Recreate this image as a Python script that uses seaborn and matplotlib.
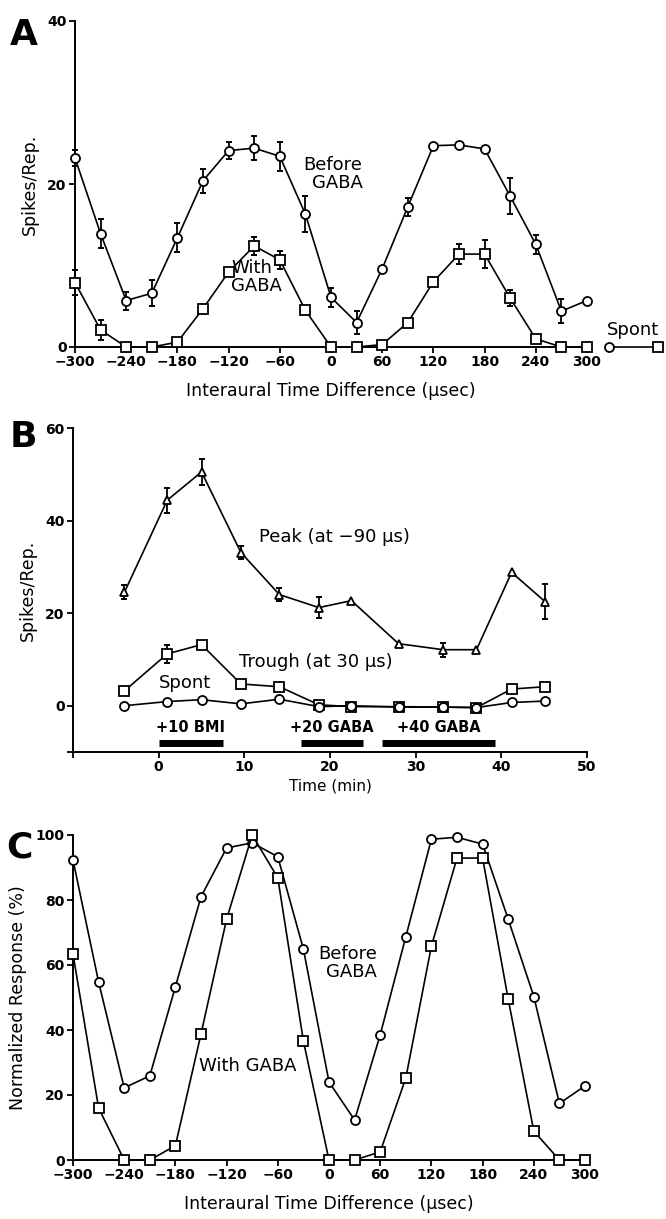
import numpy as np
import pandas as pd
import matplotlib
matplotlib.use("Agg")
import matplotlib.pyplot as plt
import seaborn as sns

# ---------------- data ----------------
itd = [-300, -270, -240, -210, -180, -150, -120, -90, -60, -30, 0,
       30, 60, 90, 120, 150, 180, 210, 240, 270, 300]

a_before = [23.2, 13.9, 5.7, 6.6, 13.4, 20.4, 24.1, 24.4, 23.4, 16.3, 6.1,
            3.0, 9.6, 17.2, 24.7, 24.8, 24.3, 18.5, 12.6, 4.4, 5.7]
a_before_err = [1.0, 1.8, 1.1, 1.6, 1.8, 1.5, 1.0, 1.5, 1.8, 2.2, 1.2,
                1.4, 0, 1.1, 0, 0, 0, 2.2, 1.2, 1.5, 0]
a_gaba = [7.9, 2.1, 0, 0, 0.6, 4.7, 9.2, 12.4, 10.7, 4.5, 0,
          0, 0.3, 3.0, 8.0, 11.4, 11.4, 6.0, 1.0, 0, 0]
a_gaba_err = [1.5, 1.2, 0, 0, 0, 0, 0, 1.1, 1.1, 0, 0,
              0, 0, 0, 0, 1.2, 1.7, 1.0, 0, 0, 0]
a_spont = [0.0, 0.0]

b_time = [-4, 1, 5, 9.6, 14.1, 18.7, 22.5, 28, 33.2, 37.1, 41.2, 45.1]
b_peak = [24.5, 44.4, 50.5, 33.1, 24.0, 21.2, 22.7, 13.4, 12.1, 12.1, 28.8, 22.5]
b_peak_err = [1.5, 2.7, 2.9, 1.4, 1.4, 2.2, 0, 0, 1.5, 0, 0, 3.8]
b_trough = [3.2, 11.2, 13.2, 4.7, 4.1, 0.2, -0.2, -0.2, -0.3, -0.4, 3.6, 4.1]
b_trough_err = [0, 2.0, 0, 0, 0, 0, 0, 0, 0, 0, 0, 0]
b_spont = [0.0, 0.9, 1.3, 0.4, 1.4, -0.2, 0.0, -0.3, -0.3, -0.4, 0.7, 1.0]

drug_labels = ["+10 BMI", "+20 GABA", "+40 GABA"]
drug_start = [0, 16.6, 26.1]
drug_end = [7.5, 23.8, 39.3]

c_before = [92.3, 54.8, 22.2, 25.9, 53.3, 81.0, 96.0, 97.6, 93.3, 64.9, 24.0,
            12.3, 38.5, 68.7, 98.7, 99.3, 97.2, 74.1, 50.3, 17.4, 22.8]
c_gaba = [63.4, 16.0, 0, 0, 4.4, 38.8, 74.1, 100, 86.8, 36.6, 0,
          0, 2.5, 25.2, 65.8, 92.9, 92.9, 49.5, 8.9, 0, 0]

a_yticks = [0, 20, 40]
b_yticks = [-10, 0, 20, 40, 60]
b_ytick_labels = ["", "0", "20", "40", "60"]
b_xticks = [-10, 0, 10, 20, 30, 40, 50]
b_xtick_labels = ["", "0", "10", "20", "30", "40", "50"]
c_yticks = [0, 20, 40, 60, 80, 100]
itd_ticks = [-300, -240, -180, -120, -60, 0, 60, 120, 180, 240, 300]

# ---------------- style ----------------
sns.set_style("ticks")
plt.rcParams["font.family"] = ["DejaVu Sans"]
for k in ["text.color", "axes.labelcolor", "xtick.color", "ytick.color", "axes.edgecolor"]:
    plt.rcParams[k] = "black"
plt.rcParams["axes.linewidth"] = 1.4
plt.rcParams["xtick.major.width"] = 1.3
plt.rcParams["ytick.major.width"] = 1.3

W, H = 666, 1219
fig = plt.figure(figsize=(W / 100, H / 100), dpi=100)

def axes_px(x0, x1, ytop, ybot):
    return fig.add_axes([x0 / W, 1 - ybot / H, (x1 - x0) / W, (ybot - ytop) / H])

LW = 1.2
MS = 6.5
MEW = 1.3
TICKFS = 10
LABFS = 12.5
ANNFS = 13

def line(ax, x, y, marker, ms=MS):
    df = pd.DataFrame({"x": x, "y": y})
    sns.lineplot(data=df, x="x", y="y", ax=ax, color="black", lw=LW,
                 marker=marker, markersize=ms, markerfacecolor="white",
                 markeredgecolor="black", markeredgewidth=MEW,
                 clip_on=False, zorder=3, sort=False)

def errs(ax, x, y, e):
    x = np.asarray(x, float); y = np.asarray(y, float); e = np.asarray(e, float)
    m = e > 0
    ax.errorbar(x[m], y[m], yerr=e[m], fmt="none", ecolor="black",
                elinewidth=1.3, capsize=2.5, capthick=1.4, zorder=2, clip_on=False)

def style(ax):
    sns.despine(ax=ax)
    ax.tick_params(labelsize=TICKFS, direction="out", length=4, width=1.3, pad=2,
                   colors="black")
    for lab in ax.get_xticklabels() + ax.get_yticklabels():
        lab.set_fontweight("bold")
    ax.set_facecolor("white")

# ---------------- panel A ----------------
axA = axes_px(75, 587, 21, 347)
errs(axA, itd, a_before, a_before_err)
errs(axA, itd, a_gaba, a_gaba_err)
line(axA, itd, a_before, "o")
line(axA, itd, a_gaba, "s")
axA.set_xlim(-300, 300)
axA.set_ylim(0, 40)
axA.set_xticks(itd_ticks)
axA.set_xticklabels([str(t).replace("-", "\u2212") for t in itd_ticks])
axA.set_yticks(a_yticks)
axA.set_xlabel("Interaural Time Difference (\u03bcsec)", fontsize=LABFS, labelpad=9)
axA.set_ylabel("Spikes/Rep.", fontsize=LABFS, labelpad=6)
style(axA)
# spontaneous rate drawn beyond the axis end
sp_x = [326, 383]
axA.plot(sp_x, a_spont, color="black", lw=LW, clip_on=False, zorder=3)
axA.plot(sp_x[0], a_spont[0], marker="o", ms=MS, mfc="white", mec="black",
         mew=MEW, clip_on=False, zorder=4)
axA.plot(sp_x[1], a_spont[1], marker="s", ms=MS, mfc="white", mec="black",
         mew=MEW, clip_on=False, zorder=4)
axA.text(354, 2.1, "Spont", fontsize=ANNFS, ha="center", va="center", clip_on=False)
axA.text(37, 21.2, "Before\nGABA", fontsize=ANNFS, ha="right", va="center",
         multialignment="right", linespacing=1.0)
axA.text(-117, 8.6, "With\nGABA", fontsize=ANNFS, ha="left", va="center",
         multialignment="left", linespacing=1.0)
fig.text(10 / W, 1 - 35 / H, "A", fontsize=26, fontweight="bold", va="center")

# ---------------- panel B ----------------
axB = axes_px(73, 587, 428, 752)
errs(axB, b_time, b_peak, b_peak_err)
errs(axB, b_time, b_trough, b_trough_err)
line(axB, b_time, b_peak, "^", ms=6)
line(axB, b_time, b_trough, "s")
line(axB, b_time, b_spont, "o")
for s, e in zip(drug_start, drug_end):
    axB.hlines(-8, s, e, color="black", lw=5)
for s, e, t in zip(drug_start, drug_end, drug_labels):
    axB.text((s + e) / 2, -4.6, t, fontsize=10.5, fontweight="bold",
             ha="center", va="center")
axB.set_xlim(-10, 50)
axB.set_ylim(-10, 60)
axB.set_xticks(b_xticks)
axB.set_xticklabels(b_xtick_labels)
axB.set_yticks(b_yticks)
axB.set_yticklabels(b_ytick_labels)
axB.set_xlabel("Time (min)", fontsize=11, labelpad=3)
axB.set_ylabel("Spikes/Rep.", fontsize=LABFS, labelpad=6)
style(axB)
axB.text(11.7, 36.5, "Peak (at \u221290 \u03bcs)", fontsize=ANNFS, ha="left", va="center")
axB.text(9.4, 9.5, "Trough (at 30 \u03bcs)", fontsize=ANNFS, ha="left", va="center")
axB.text(0, 4.8, "Spont", fontsize=ANNFS, ha="left", va="center")
fig.text(10 / W, 1 - 437 / H, "B", fontsize=26, fontweight="bold", va="center")

# ---------------- panel C ----------------
axC = axes_px(73, 585, 835, 1160)
line(axC, itd, c_before, "o")
line(axC, itd, c_gaba, "s")
axC.set_xlim(-300, 300)
axC.set_ylim(0, 100)
axC.set_xticks(itd_ticks)
axC.set_xticklabels([str(t).replace("-", "\u2212") for t in itd_ticks])
axC.set_yticks(c_yticks)
axC.set_xlabel("Interaural Time Difference (\u03bcsec)", fontsize=LABFS, labelpad=9)
axC.set_ylabel("Normalized Response (%)", fontsize=LABFS, labelpad=6)
style(axC)
axC.text(56, 60.5, "Before\nGABA", fontsize=ANNFS, ha="right", va="center",
         multialignment="right", linespacing=1.0)
axC.text(-152, 29, "With GABA", fontsize=ANNFS, ha="left", va="center")
fig.text(6 / W, 1 - 847 / H, "C", fontsize=26, fontweight="bold", va="center")

fig.savefig("out.png", dpi=100, facecolor="white")
